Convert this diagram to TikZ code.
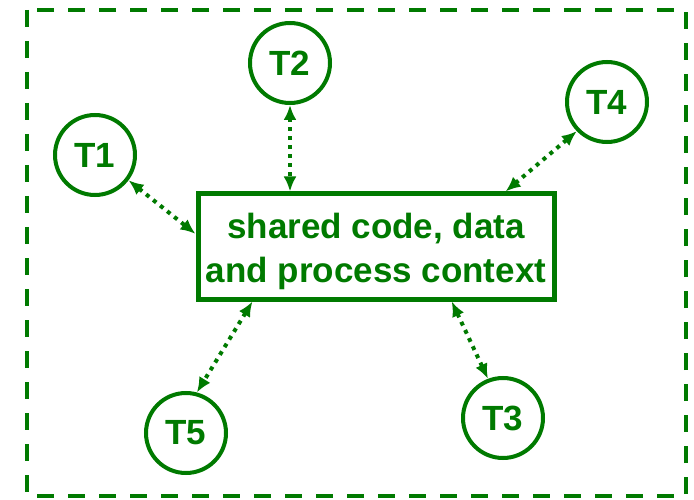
\documentclass[tikz,border=0pt]{standalone}
\usepackage{fontspec}
\setmainfont{Liberation Sans}
\usetikzlibrary{arrows.meta}
\definecolor{thgreen}{RGB}{0,122,0}
\begin{document}
\begin{tikzpicture}[x=1pt,y=-1pt,
  thread/.style={circle,draw=thgreen,line width=4pt,minimum size=80pt,inner sep=0pt,
    text=thgreen,font=\fontsize{35}{40}\selectfont\bfseries},
  ctxbox/.style={draw=thgreen,line width=5pt,minimum width=356pt,minimum height=105pt,
    inner sep=0pt,align=center,text=thgreen,font=\fontsize{35}{44}\selectfont\bfseries},
  conn/.style={{Latex[length=15pt,width=13pt]}-{Latex[length=15pt,width=13pt]},
    draw=thgreen,line width=4pt,dash pattern=on 4pt off 5pt}]
\useasboundingbox (0,0) rectangle (694,500);
\draw[thgreen,line width=4pt,dash pattern=on 17pt off 14pt] (27,10) rectangle (686,496);

\node[ctxbox] (box) at (376,246.5) {\rule{0pt}{36pt}shared code, data\\and process context};
\node[thread] (t1) at (95,155) {T1};
\node[thread] (t2) at (290,63) {T2};
\node[thread] (t4) at (607,102) {T4};
\node[thread] (t3) at (503,418) {T3};
\node[thread] (t5) at (186,433) {T5};

\draw[conn] (t1.-37) -- (box.176);
\draw[conn] (t2.south) -- (t2.south |- box.north);
\draw[conn] (t4.224) -- (box.23);
\draw[conn] (box.204) -- (t5.75);
\draw[conn] (box.-36) -- (t3.111);
\end{tikzpicture}
\end{document}
